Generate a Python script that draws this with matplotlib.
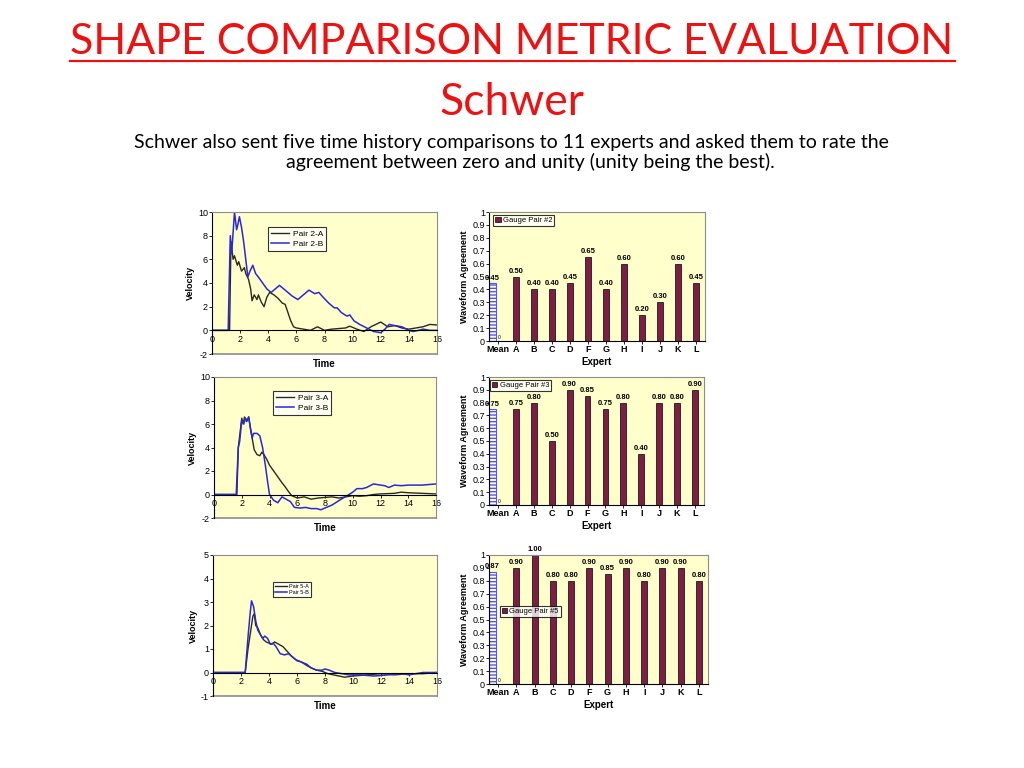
import matplotlib.pyplot as plt
import numpy as np

# ---- data ----
experts = ['Mean', 'A', 'B', 'C', 'D', 'F', 'G', 'H', 'I', 'J', 'K', 'L']
pair2_scores = [0.45, 0.50, 0.40, 0.40, 0.45, 0.65, 0.40, 0.60, 0.20, 0.30, 0.60, 0.45]
pair3_scores = [0.75, 0.75, 0.80, 0.50, 0.90, 0.85, 0.75, 0.80, 0.40, 0.80, 0.80, 0.90]
pair5_scores = [0.87, 0.90, 1.00, 0.80, 0.80, 0.90, 0.85, 0.90, 0.80, 0.90, 0.90, 0.80]

t2a = [0, 1.25, 1.35, 1.5, 1.6, 1.8, 1.9, 2.1, 2.3, 2.4, 2.6, 2.75, 2.85, 3.0, 3.2, 3.3, 3.5, 3.7,
       3.9, 4.1, 4.4, 4.7, 5.0, 5.2, 5.4, 5.6, 5.8, 6.0, 6.5, 7.0, 7.5, 8.0, 8.5, 9.0, 9.5, 9.8,
       10.3, 10.8, 11.3, 12.0, 12.5, 13.0, 13.5, 14.0, 14.5, 15.0, 15.5, 16.0]
v2a = [0, 0, 7.5, 6.0, 6.3, 5.5, 5.8, 5.0, 5.3, 4.8, 4.3, 3.5, 2.5, 3.0, 2.6, 3.0, 2.4, 2.0,
       2.8, 3.2, 3.0, 2.7, 2.3, 2.2, 1.5, 0.8, 0.3, 0.2, 0.1, 0.0, 0.3, 0.0, 0.1, 0.15, 0.2, 0.35,
       0.1, -0.1, 0.3, 0.7, 0.3, 0.4, 0.2, 0.1, 0.2, 0.3, 0.5, 0.45]
t2b = [0, 1.15, 1.3, 1.4, 1.6, 1.75, 1.85, 1.95, 2.1, 2.25, 2.4, 2.55, 2.7, 2.9, 3.1, 3.3, 3.6,
       3.9, 4.2, 4.5, 4.8, 5.1, 5.4, 5.7, 6.1, 6.5, 6.9, 7.3, 7.6, 7.9, 8.3, 8.7, 8.9, 9.2, 9.6,
       9.8, 10.1, 10.5, 11.0, 11.5, 12.0, 12.3, 12.6, 13.0, 13.5, 14.0, 14.3, 14.7, 15.0, 15.5, 16.0]
v2b = [0, 0, 8.0, 6.5, 10.0, 8.5, 9.0, 9.6, 8.7, 7.5, 6.0, 4.5, 5.0, 5.5, 4.8, 4.5, 4.0,
       3.5, 3.2, 3.5, 3.8, 3.5, 3.2, 2.9, 2.6, 3.0, 3.4, 3.1, 3.2, 2.8, 2.3, 1.9, 1.9, 1.5, 1.2,
       1.3, 0.8, 0.5, 0.2, -0.1, -0.2, 0.1, 0.5, 0.4, 0.3, 0.0, -0.1, 0.0, 0.1, 0.0, 0.0]

t3a = [0, 1.65, 1.75, 1.85, 2.0, 2.1, 2.2, 2.35, 2.5, 2.6, 2.75, 2.9, 3.1, 3.3, 3.45, 3.6, 3.8,
       4.0, 4.3, 4.6, 4.9, 5.1, 5.4, 5.6, 6.0, 6.5, 7.0, 7.5, 8.0, 8.5, 9.0, 9.5, 10.0, 10.5,
       11.0, 11.5, 12.0, 13.0, 13.5, 14.0, 15.0, 16.0]
v3a = [0, 0, 4.0, 5.0, 6.5, 6.0, 6.6, 6.2, 6.6, 5.8, 4.8, 3.8, 3.4, 3.3, 3.6, 3.4, 3.0,
       2.5, 2.0, 1.5, 1.0, 0.7, 0.2, -0.1, -0.3, -0.2, -0.4, -0.3, -0.25, -0.2, -0.3, -0.2, -0.1, -0.15,
       -0.1, 0.0, 0.05, 0.1, 0.2, 0.15, 0.1, 0.05]
t3b = [0, 1.6, 1.75, 1.85, 2.0, 2.15, 2.25, 2.4, 2.5, 2.65, 2.75, 2.85, 3.1, 3.3, 3.5, 3.7, 3.85,
       4.0, 4.3, 4.6, 4.9, 5.2, 5.5, 5.8, 6.2, 6.6, 7.0, 7.4, 7.7, 8.1, 8.5, 8.9, 9.3, 9.6, 10.0,
       10.3, 10.7, 11.0, 11.5, 12.0, 12.3, 12.6, 13.0, 13.5, 14.0, 15.0, 15.5, 16.0]
v3b = [0, 0, 4.0, 4.5, 6.3, 6.0, 6.5, 6.3, 6.6, 5.5, 4.8, 5.2, 5.2, 5.0, 4.0, 2.5, 1.2,
       0.0, -0.5, -0.7, -0.2, -0.4, -0.6, -1.1, -1.15, -1.1, -1.2, -1.2, -1.3, -1.1, -0.9, -0.6, -0.3, -0.1, 0.2,
       0.5, 0.5, 0.6, 0.9, 0.8, 0.75, 0.6, 0.8, 0.75, 0.8, 0.8, 0.85, 0.9]

t5a = [0, 2.3, 2.5, 2.7, 2.85, 2.95, 3.05, 3.2, 3.4, 3.6, 3.8, 4.0, 4.2, 4.4, 4.7, 5.0, 5.3, 5.6,
       5.9, 6.3, 6.7, 7.0, 7.4, 7.8, 8.2, 8.6, 9.0, 9.4, 10.0, 11.0, 12.0, 13.0, 14.0, 15.0, 16.0]
v5a = [0, 0, 1.0, 1.8, 2.4, 2.5, 2.0, 1.9, 1.6, 1.4, 1.3, 1.25, 1.2, 1.3, 1.2, 1.1, 0.9, 0.7,
       0.55, 0.45, 0.35, 0.2, 0.1, 0.05, -0.05, -0.1, -0.15, -0.2, -0.15, -0.1, -0.05, -0.1, -0.05, -0.05, 0.0]
t5b = [0, 2.3, 2.5, 2.65, 2.75, 2.9, 3.05, 3.2, 3.4, 3.55, 3.7, 3.9, 4.1, 4.3, 4.5, 4.8, 5.1, 5.4,
       5.7, 6.0, 6.3, 6.7, 7.0, 7.4, 7.8, 8.0, 8.3, 8.7, 9.2, 9.7, 10.5, 11.5, 12.5, 13.5, 14.0, 15.0, 16.0]
v5b = [0, 0, 1.5, 2.5, 3.05, 2.8, 2.2, 1.8, 1.6, 1.45, 1.55, 1.45, 1.2, 1.25, 1.1, 0.8, 0.75, 0.8,
       0.65, 0.5, 0.45, 0.3, 0.2, 0.1, 0.1, 0.15, 0.1, 0.0, -0.05, -0.1, -0.1, -0.15, -0.1, -0.05, -0.1, 0.0, 0.0]

YELLOW = '#FFFFCC'
MAROON = '#7E1E46'
BLUE = '#2828D8'
DARK = '#2a2a1a'
GRAY = '#8c8c8c'
W, H = 1024, 768

plt.rcParams['axes.unicode_minus'] = False

fig = plt.figure(figsize=(10.24, 7.68), dpi=100)
fig.patch.set_facecolor('white')


def px_axes(left, top, right, bottom):
    return fig.add_axes([left / W, 1 - bottom / H, (right - left) / W, (bottom - top) / H])


# ---- slide text ----
red = '#EE1111'
fig.text(512 / W, 1 - 54 / H, 'SHAPE COMPARISON METRIC EVALUATION', ha='center', va='baseline',
         fontsize=31, color=red, family='Lato')
fig.add_artist(plt.Line2D([70 / W, 955 / W], [1 - 61 / H, 1 - 61 / H], color=red, lw=1.6))
fig.text(512 / W, 1 - 115 / H, 'Schwer', ha='center', va='baseline', fontsize=32, color=red, family='Lato')
fig.text(511 / W, 1 - 148 / H,
         'Schwer also sent five time history comparisons to 11 experts and asked them to rate the',
         ha='center', va='baseline', fontsize=14, color='black', family='Lato')
fig.text(530 / W, 1 - 168 / H, 'agreement between zero and unity (unity being the best).',
         ha='center', va='baseline', fontsize=14, color='black', family='Lato')

plt.rcParams['font.family'] = 'Liberation Sans'


def line_panel(rect, ta, va_, tb, vb, names, ylim, yticks, legend_box, legend_fs):
    ax = px_axes(*rect)
    ax.set_facecolor(YELLOW)
    ax.plot(ta, va_, color=DARK, lw=1.0, label=names[0])
    ax.plot(tb, vb, color=BLUE, lw=1.1, label=names[1])
    ax.set_xlim(0, 16)
    ax.set_ylim(*ylim)
    ax.set_xticks(np.arange(0, 17, 2))
    ax.set_yticks(yticks)
    ax.spines['bottom'].set_position(('data', 0))
    ax.spines['bottom'].set_color('black')
    ax.spines['left'].set_color('black')
    for s in ['top', 'right']:
        ax.spines[s].set_color(GRAY)
    ax.axhline(ylim[0], color=GRAY, lw=1.2, clip_on=False)
    ax.tick_params(labelsize=6.5, length=2, width=0.6, pad=1)
    ax.set_ylabel('Velocity', fontsize=6.5, fontweight='bold', labelpad=2)
    ax.text(0.5, -0.035, 'Time', transform=ax.transAxes, ha='center', va='top',
            fontsize=7, fontweight='bold')
    bl, bt, br, bb = legend_box
    leg = ax.legend(loc='upper left', bbox_to_anchor=((bl - rect[0]) / (rect[2] - rect[0]),
                                                      1 - (bt - rect[1]) / (rect[3] - rect[1])),
                    fontsize=legend_fs, frameon=True, fancybox=False, edgecolor='black',
                    handlelength=2.2, borderpad=0.35, labelspacing=0.25, handletextpad=0.4,
                    borderaxespad=0)
    leg.get_frame().set_linewidth(0.8)
    return ax


def bar_panel(rect, scores, pair_label, legend_anchor):
    ax = px_axes(*rect)
    ax.set_facecolor(YELLOW)
    x = np.arange(len(experts))
    ax.bar(x[0] - 0.31, scores[0], width=0.36, color='white', edgecolor='#5555EE',
           hatch='-----', lw=0.8)
    ax.text(x[0] + 0.05, 0.01, '0', fontsize=3.5, ha='center', va='bottom')
    bars = ax.bar(x[1:], scores[1:], width=0.33, color=MAROON, edgecolor='black', lw=0.5,
                  label=pair_label)
    ax.text(x[0] - 0.31, scores[0] + 0.01, f'{scores[0]:.2f}', fontsize=5.5, fontweight='bold',
            ha='center', va='bottom')
    for xi, v in zip(x[1:], scores[1:]):
        ax.text(xi, v + 0.015, f'{v:.2f}', fontsize=5.5, fontweight='bold', ha='center', va='bottom')
    ax.set_xlim(-0.5, len(experts) - 0.5)
    ax.set_ylim(0, 1)
    ax.set_yticks(np.round(np.arange(0, 1.01, 0.1), 1))
    ax.set_yticklabels(['0'] + [f'{v:.1f}' for v in np.arange(0.1, 0.95, 0.1)] + ['1'])
    ax.set_xticks(x)
    ax.set_xticklabels(experts)
    ax.tick_params(labelsize=6.5, length=2, width=0.6, pad=1)
    for lab in ax.get_xticklabels():
        lab.set_fontweight('bold')
    ax.spines['left'].set_color('black')
    ax.spines['bottom'].set_color('black')
    for s in ['top', 'right']:
        ax.spines[s].set_color(GRAY)
    ax.set_ylabel('Waveform Agreement', fontsize=6.5, fontweight='bold', labelpad=2)
    ax.set_xlabel('Expert', fontsize=7, fontweight='bold', labelpad=2)
    leg = ax.legend(handles=[bars], loc='upper left', bbox_to_anchor=legend_anchor, fontsize=5.5,
                    frameon=True, fancybox=False, edgecolor='black', handlelength=0.7,
                    handleheight=0.7, borderpad=0.25, handletextpad=0.3, borderaxespad=0)
    leg.get_frame().set_linewidth(0.8)
    return ax


line_panel((212, 212, 437, 354), t2a, v2a, t2b, v2b, ['Pair 2-A', 'Pair 2-B'],
           (-2, 10), np.arange(-2, 11, 2), (268, 227, 323, 253), 6)
line_panel((214, 377, 436, 518), t3a, v3a, t3b, v3b, ['Pair 3-A', 'Pair 3-B'],
           (-2, 10), np.arange(-2, 11, 2), (273, 391, 323, 415), 6)
line_panel((213, 555, 437, 696), t5a, v5a, t5b, v5b, ['Pair 5-A', 'Pair 5-B'],
           (-1, 5), np.arange(-1, 6, 1), (273, 582, 310, 602), 4)

bar_panel((489, 212, 705, 341), pair2_scores, 'Gauge Pair #2', (0.02, 0.975))
bar_panel((489, 377, 704, 505), pair3_scores, 'Gauge Pair #3', (0.005, 0.975))
bar_panel((489, 555, 708, 684), pair5_scores, 'Gauge Pair #5', (0.05, 0.605))

fig.savefig('out.png', dpi=100)
